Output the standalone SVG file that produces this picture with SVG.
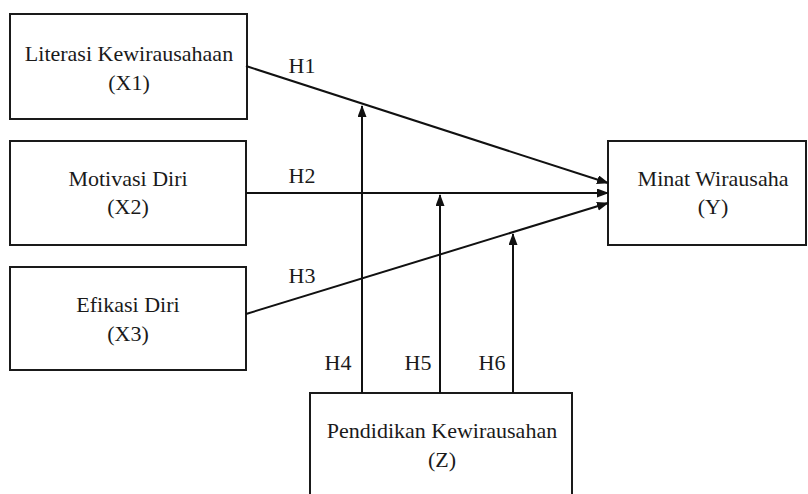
<svg xmlns="http://www.w3.org/2000/svg" width="808" height="494" viewBox="0 0 808 494">
<style>
.box{fill:#fff;stroke:#1a1a1a;stroke-width:2}
.t{font-family:"Liberation Serif","Times New Roman",serif;font-size:22px;fill:#1a1a1a;text-anchor:middle}
.c{stroke:#111;stroke-width:2;fill:none}
</style>
<defs>
<marker id="ah" markerUnits="userSpaceOnUse" markerWidth="12" markerHeight="10" refX="11" refY="4.5" orient="auto">
<path d="M0,0 L12,4.5 L0,9 z" fill="#111"/>
</marker>
</defs>
<rect width="808" height="494" fill="#fff"/>
<g id="x1">
<rect class="box" x="10" y="14" width="237" height="105"/>
<text class="t" x="129" y="61">Literasi Kewirausahaan</text>
<text class="t" x="129" y="90">(X1)</text>
</g>
<g id="x2">
<rect class="box" x="10" y="141" width="236" height="104"/>
<text class="t" x="128" y="186">Motivasi Diri</text>
<text class="t" x="128" y="214">(X2)</text>
</g>
<g id="x3">
<rect class="box" x="10" y="267" width="236" height="103"/>
<text class="t" x="128" y="312">Efikasi Diri</text>
<text class="t" x="128" y="341">(X3)</text>
</g>
<g id="y">
<rect class="box" x="608" y="141" width="198" height="104"/>
<text class="t" x="713" y="186">Minat Wirausaha</text>
<text class="t" x="713" y="214">(Y)</text>
</g>
<g id="z">
<rect class="box" x="310" y="393" width="262" height="110"/>
<text class="t" x="442" y="438">Pendidikan Kewirausahan</text>
<text class="t" x="442" y="467">(Z)</text>
</g>
<g id="connectors">
<line class="c" x1="246" y1="66" x2="608" y2="183" marker-end="url(#ah)"/>
<line class="c" x1="246" y1="193" x2="608" y2="193" marker-end="url(#ah)"/>
<line class="c" x1="246" y1="314" x2="608" y2="203" marker-end="url(#ah)"/>
<line class="c" x1="362" y1="393" x2="362" y2="106" marker-end="url(#ah)"/>
<line class="c" x1="440" y1="393" x2="440" y2="195" marker-end="url(#ah)"/>
<line class="c" x1="513" y1="393" x2="513" y2="234" marker-end="url(#ah)"/>
<text class="t" x="302" y="73">H1</text>
<text class="t" x="302" y="183">H2</text>
<text class="t" x="302" y="283">H3</text>
<text class="t" x="338" y="370">H4</text>
<text class="t" x="418" y="370">H5</text>
<text class="t" x="492" y="370">H6</text>
</g>
</svg>
